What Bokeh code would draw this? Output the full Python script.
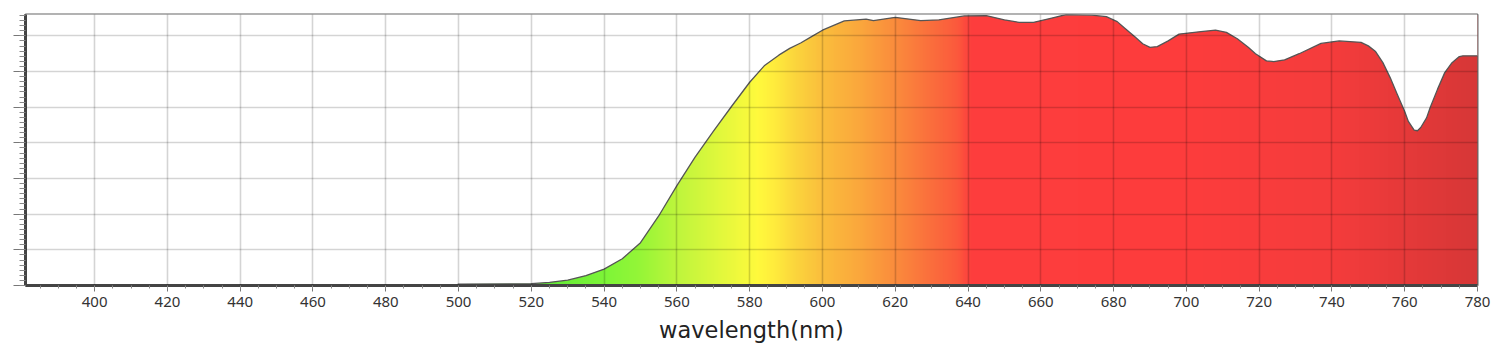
import numpy as np
from bokeh.plotting import figure
from bokeh.models import FixedTicker, Range1d
from bokeh.embed import file_html
from bokeh.resources import INLINE

# ---- data ----
wavelength = [381, 499, 500, 520, 525, 530, 535, 540, 545, 550, 555, 560, 565, 570, 575,
              580, 584, 588, 591, 594, 597, 600, 606, 612, 614, 620, 627, 632, 639, 645, 650, 654,
              658, 663, 667, 674, 678, 681, 683, 686, 688, 690, 692, 695, 698, 704, 708, 711, 714,
              717, 719, 722, 724, 727, 731, 737, 742, 748, 750, 752, 754, 756, 758, 760, 761,
              762.6, 763.5, 764.4, 766, 767, 769, 771, 773, 775, 776, 780]
intensity = [0, 0, 0.04, 0.05, 0.09, 0.15, 0.28, 0.46, 0.75, 1.2, 1.95, 2.8, 3.6, 4.32, 5.02,
             5.7, 6.16, 6.46, 6.65, 6.8, 6.98, 7.16, 7.42, 7.47, 7.43, 7.52, 7.43, 7.45, 7.56, 7.57,
             7.45, 7.38, 7.38, 7.5, 7.6, 7.58, 7.54, 7.4, 7.22, 6.96, 6.78, 6.68, 6.7, 6.86, 7.05,
             7.12, 7.16, 7.1, 6.92, 6.68, 6.5, 6.3, 6.28, 6.33, 6.5, 6.79, 6.86, 6.82, 6.72, 6.56,
             6.25, 5.83, 5.35, 4.88, 4.6, 4.36, 4.34, 4.43, 4.7, 4.99, 5.5, 5.97, 6.25, 6.42,
             6.44, 6.44]
x_ticks = [400, 420, 440, 460, 480, 500, 520, 540, 560, 580, 600, 620, 640, 660, 680, 700,
           720, 740, 760, 780]
x_tick_labels = [str(t) for t in x_ticks]
y_ticks = [0, 1, 2, 3, 4, 5, 6, 7]

# gradient colour stops (style)
stop_wl = [381, 500, 525, 540, 550, 560, 570, 582, 587, 592, 600, 610, 620, 630, 637, 641, 700, 740, 780]
stop_rgb = [(60, 190, 60), (70, 200, 60), (100, 235, 55), (125, 245, 55), (150, 245, 55),
            (190, 245, 60), (220, 248, 60), (255, 250, 60), (255, 235, 60), (252, 215, 60),
            (250, 190, 60), (250, 168, 60), (250, 140, 60), (250, 110, 60), (252, 90, 60),
            (253, 62, 62), (253, 60, 60), (245, 60, 60), (215, 55, 55)]

X0, X1 = 381, 780
Y0, Y1 = 0, 7.6

p = figure(width=1500, height=356, output_backend="svg", toolbar_location=None,
           x_range=Range1d(X0, X1), y_range=Range1d(Y0, Y1),
           min_border_left=25, min_border_right=23, min_border_top=14, min_border_bottom=71)
p.background_fill_color = "white"
p.border_fill_color = "white"

# gradient image
n = 800
cols = np.linspace(X0, X1, n)
sr = np.array(stop_rgb, dtype=float)
r = np.interp(cols, stop_wl, sr[:, 0])
g = np.interp(cols, stop_wl, sr[:, 1])
b = np.interp(cols, stop_wl, sr[:, 2])
img = np.zeros((1, n), dtype=np.uint32)
view = img.view(dtype=np.uint8).reshape((1, n, 4))
view[0, :, 0] = r.astype(np.uint8)
view[0, :, 1] = g.astype(np.uint8)
view[0, :, 2] = b.astype(np.uint8)
view[0, :, 3] = 255
p.image_rgba(image=[img], x=X0, y=Y0, dw=X1 - X0, dh=(Y1 - Y0) * 0.997)

# white mask above the curve (extends beyond the top, clipped)
p.varea(x=wavelength, y1=intensity, y2=[Y1 + 1] * len(wavelength), fill_color="white")

# curve outline
p.line(wavelength, intensity, line_color="#555555", line_width=1.3, line_join="round")

# grids on top
for grid in (p.xgrid, p.ygrid):
    grid.level = "overlay"
    grid.grid_line_color = "black"
    grid.grid_line_alpha = 0.17
    grid.grid_line_width = 1.6

p.xaxis.ticker = FixedTicker(ticks=x_ticks, minor_ticks=list(np.arange(385, 781, 5)))
p.xaxis.major_label_overrides = {t: l for t, l in zip(x_ticks, x_tick_labels)}
p.xgrid.ticker = FixedTicker(ticks=x_ticks[:-1])
p.yaxis.ticker = FixedTicker(ticks=y_ticks, minor_ticks=list(np.arange(0, 7.6, 1 / 7)))
p.ygrid.ticker = FixedTicker(ticks=y_ticks[1:])
p.yaxis.major_label_overrides = {t: "" for t in y_ticks}

p.xaxis.axis_label = "wavelength(nm)"
p.xaxis.axis_label_text_font = "DejaVu Sans"
p.xaxis.axis_label_text_font_size = "22.5px"
p.xaxis.axis_label_text_font_style = "normal"
p.xaxis.axis_label_text_color = "#222222"
p.xaxis.axis_label_standoff = 7
p.xaxis.major_label_text_font = "Noto Sans"
p.xaxis.major_label_text_font_size = "15px"
p.xaxis.major_label_text_color = "#333333"
p.xaxis.major_label_standoff = 5

for ax in (p.xaxis, p.yaxis):
    ax.axis_line_color = "#444444"
    ax.axis_line_width = 3
    ax.major_tick_line_color = "#777777"
    ax.minor_tick_line_color = "#888888"
    ax.major_tick_in = 0
    ax.minor_tick_in = 0

p.xaxis.major_tick_out = 6
p.xaxis.minor_tick_out = 3
p.yaxis.major_tick_out = 12
p.yaxis.minor_tick_out = 6
p.yaxis.major_label_standoff = 0

p.outline_line_color = "#666666"
p.outline_line_width = 2

open("out.html", "w").write(file_html(p, INLINE))
